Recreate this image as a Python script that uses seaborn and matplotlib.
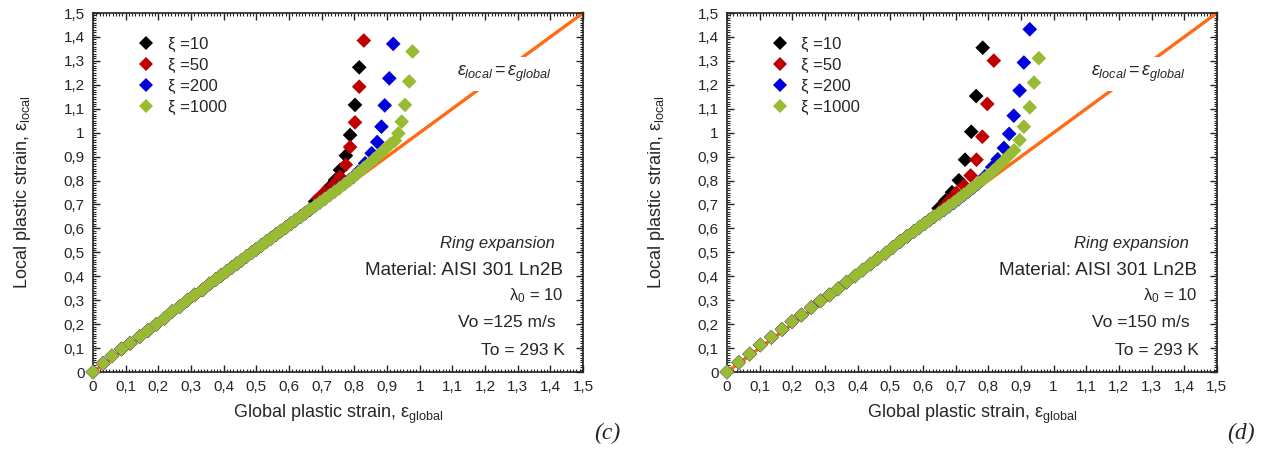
import numpy as np
import pandas as pd
import seaborn as sns
import matplotlib.pyplot as plt
from matplotlib.ticker import MultipleLocator

sns.set_theme(style="ticks")
plt.rcParams['font.family'] = ['Liberation Sans', 'DejaVu Sans']
plt.rcParams['mathtext.fontset'] = 'custom'
plt.rcParams['mathtext.rm'] = 'Liberation Sans'
plt.rcParams['mathtext.it'] = 'Liberation Sans:italic'

# ---- data ----
series_names = ['ξ =10', 'ξ =50', 'ξ =200', 'ξ =1000']
series_colors = ['#000000', '#c00000', '#0000dd', '#99bb33']

# panel (c), Vo = 125 m/s : common part of all four curves
base_c_glob = [0, 0.031, 0.058, 0.087, 0.114, 0.143, 0.168, 0.194, 0.219, 0.242, 0.265,
               0.288, 0.311, 0.335, 0.357, 0.375, 0.392, 0.408, 0.424, 0.440, 0.455, 0.470,
               0.485, 0.500, 0.515, 0.530, 0.545, 0.560, 0.575, 0.590, 0.605, 0.620, 0.635,
               0.650, 0.665]
base_c_loc = [0, 0.036, 0.067, 0.096, 0.120, 0.148, 0.173, 0.199, 0.224, 0.252, 0.273,
              0.298, 0.322, 0.343, 0.368, 0.386, 0.403, 0.419, 0.436, 0.452, 0.467, 0.483,
              0.498, 0.513, 0.528, 0.544, 0.559, 0.574, 0.589, 0.604, 0.619, 0.634, 0.649,
              0.664, 0.679]
# panel (c) tails
c10_glob = [0.680, 0.705, 0.725, 0.741, 0.756, 0.774, 0.787, 0.802, 0.815]
c10_loc = [0.712, 0.740, 0.774, 0.802, 0.844, 0.904, 0.990, 1.116, 1.273]
c50_glob = [0.690, 0.710, 0.736, 0.756, 0.774, 0.787, 0.802, 0.815, 0.829]
c50_loc = [0.726, 0.753, 0.781, 0.816, 0.866, 0.940, 1.043, 1.192, 1.385]
c200_glob = [0.680, 0.695, 0.710, 0.725, 0.740, 0.755, 0.770, 0.785, 0.797, 0.812, 0.833,
             0.853, 0.870, 0.883, 0.893, 0.907, 0.919]
c200_loc = [0.694, 0.709, 0.724, 0.740, 0.755, 0.771, 0.787, 0.803, 0.815, 0.837, 0.872,
            0.914, 0.961, 1.025, 1.114, 1.227, 1.371]
c1000_glob = [0.680, 0.695, 0.710, 0.725, 0.740, 0.755, 0.770, 0.785, 0.800, 0.815, 0.830,
              0.845, 0.860, 0.873, 0.886, 0.898, 0.910, 0.924, 0.935, 0.945, 0.955, 0.968,
              0.978]
c1000_loc = [0.694, 0.709, 0.724, 0.739, 0.754, 0.769, 0.785, 0.801, 0.818, 0.836, 0.854,
             0.871, 0.889, 0.905, 0.921, 0.937, 0.952, 0.966, 0.997, 1.046, 1.116, 1.214,
             1.339]

# panel (d), Vo = 150 m/s : common part
base_d_glob = [0, 0.036, 0.070, 0.102, 0.136, 0.169, 0.199, 0.228, 0.258, 0.286, 0.314,
               0.340, 0.366, 0.392, 0.416, 0.440, 0.462, 0.486, 0.508, 0.530, 0.552, 0.573,
               0.590, 0.605, 0.620, 0.635]
base_d_loc = [0, 0.040, 0.075, 0.113, 0.145, 0.178, 0.210, 0.238, 0.269, 0.297, 0.322,
              0.347, 0.375, 0.401, 0.426, 0.451, 0.475, 0.496, 0.521, 0.545, 0.567, 0.588,
              0.605, 0.620, 0.635, 0.650]
# panel (d) tails
d10_glob = [0.648, 0.669, 0.689, 0.710, 0.729, 0.748, 0.763, 0.783]
d10_loc = [0.684, 0.716, 0.751, 0.801, 0.887, 1.004, 1.153, 1.355]
d50_glob = [0.660, 0.680, 0.702, 0.726, 0.746, 0.764, 0.782, 0.797, 0.817]
d50_loc = [0.683, 0.715, 0.748, 0.779, 0.821, 0.887, 0.983, 1.120, 1.301]
d200_glob = [0.650, 0.665, 0.680, 0.695, 0.710, 0.725, 0.740, 0.755, 0.770, 0.790, 0.812,
             0.829, 0.848, 0.864, 0.878, 0.896, 0.909, 0.927]
d200_loc = [0.663, 0.677, 0.692, 0.707, 0.723, 0.739, 0.755, 0.771, 0.788, 0.818, 0.856,
            0.889, 0.936, 0.995, 1.071, 1.176, 1.293, 1.432]
d1000_glob = [0.650, 0.665, 0.680, 0.695, 0.710, 0.725, 0.740, 0.755, 0.770, 0.785, 0.800,
              0.815, 0.830, 0.845, 0.860, 0.879, 0.896, 0.909, 0.927, 0.940, 0.955]
d1000_loc = [0.664, 0.679, 0.694, 0.709, 0.725, 0.741, 0.757, 0.773, 0.789, 0.805, 0.822,
             0.840, 0.859, 0.879, 0.900, 0.926, 0.969, 1.025, 1.106, 1.209, 1.311]

diag = [0, 1.5]
tick_vals = [0, 0.1, 0.2, 0.3, 0.4, 0.5, 0.6, 0.7, 0.8, 0.9, 1, 1.1, 1.2, 1.3, 1.4, 1.5]
tick_labels = ['0', '0,1', '0,2', '0,3', '0,4', '0,5', '0,6', '0,7', '0,8', '0,9', '1',
               '1,1', '1,2', '1,3', '1,4', '1,5']
velocities = ['Vo =125 m/s', 'Vo =150 m/s']
panel_tags = ['(c)', '(d)']


def build_frame(base_g, base_l, tails):
    rows = []
    for name, (tg, tl) in zip(series_names, tails):
        for g, l in zip(base_g + tg, base_l + tl):
            rows.append((name, g, l))
    return pd.DataFrame(rows, columns=['xi', 'glob', 'loc'])


frames = [
    build_frame(base_c_glob, base_c_loc, [(c10_glob, c10_loc), (c50_glob, c50_loc),
                                          (c200_glob, c200_loc), (c1000_glob, c1000_loc)]),
    build_frame(base_d_glob, base_d_loc, [(d10_glob, d10_loc), (d50_glob, d50_loc),
                                          (d200_glob, d200_loc), (d1000_glob, d1000_loc)]),
]

fig = plt.figure(figsize=(12.76, 4.53), dpi=100)
axes = [fig.add_axes([0.0729, 0.1788, 0.384, 0.7925]),
        fig.add_axes([0.5697, 0.1788, 0.384, 0.7925])]

for ax, df, vo, tag in zip(axes, frames, velocities, panel_tags):
    sns.lineplot(x=diag, y=diag, ax=ax, color='#ff6a13', lw=2.4, zorder=1, clip_on=False)
    sns.scatterplot(data=df, x='glob', y='loc', hue='xi', hue_order=series_names,
                    palette=series_colors, marker='D', s=56, linewidth=0,
                    ax=ax, zorder=3, clip_on=False)
    ax.set_xlim(0, 1.5)
    ax.set_ylim(0, 1.5)
    ax.set_xticks(tick_vals)
    ax.set_xticklabels(tick_labels)
    ax.set_yticks(tick_vals)
    ax.set_yticklabels(tick_labels)
    ax.xaxis.set_minor_locator(MultipleLocator(0.01))
    ax.yaxis.set_minor_locator(MultipleLocator(0.01))
    ax.tick_params(which='both', direction='in', top=True, right=True, labelsize=11,
                   color='#222222')
    ax.tick_params(which='major', length=5, width=1, pad=6)
    ax.tick_params(which='minor', length=2.5, width=0.8)
    for sp in ax.spines.values():
        sp.set_linewidth(1.2)
        sp.set_color('#222222')
    ax.set_xlabel(r'Global plastic strain, ε$_{\mathrm{global}}$', fontsize=13, labelpad=6)
    ax.set_ylabel(r'Local plastic strain, ε$_{\mathrm{local}}$', fontsize=13, labelpad=22)

    leg = ax.legend(loc='upper left', bbox_to_anchor=(0.05, 0.966), frameon=False,
                    fontsize=12, handletextpad=0.3, labelspacing=0.35, borderpad=0.2,
                    markerscale=1.0)

    ax.text(1.26, 1.245, r'$\varepsilon_{local} = \varepsilon_{global}$', fontsize=13,
            ha='center', va='center', zorder=2,
            bbox=dict(facecolor='white', edgecolor='none', pad=5))

    ax.text(0.942, 0.359, 'Ring expansion', transform=ax.transAxes, ha='right',
            va='center', fontsize=12, style='italic')
    ax.text(0.96, 0.284, 'Material: AISI 301 Ln2B', transform=ax.transAxes, ha='right',
            va='center', fontsize=13.6)
    ax.text(0.96, 0.212, r'λ$_{0}$ = 10', transform=ax.transAxes, ha='right',
            va='center', fontsize=12)
    ax.text(0.945, 0.137, vo, transform=ax.transAxes, ha='right', va='center',
            fontsize=12.5)
    ax.text(0.963, 0.061, 'To = 293 K', transform=ax.transAxes, ha='right', va='center',
            fontsize=12.5)

    ax.text(1.05, -0.17, tag, transform=ax.transAxes, ha='center', va='center',
            fontsize=17, style='italic', family='Liberation Serif')

fig.savefig('out.png', dpi=100)
